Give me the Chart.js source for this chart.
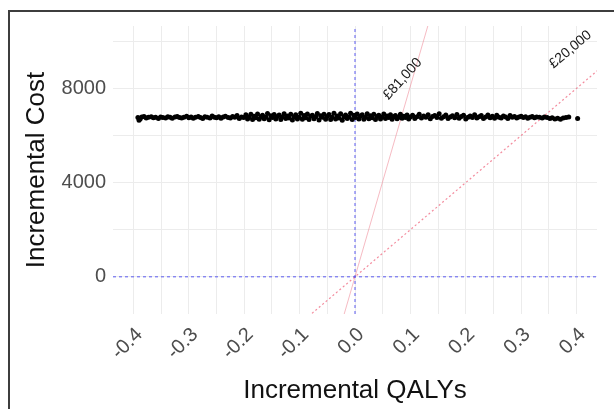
<!DOCTYPE html>
<html lang="en">
<head>
    <meta charset="UTF-8">
    <title>Cost-effectiveness plane</title>
    <script src="https://cdn.jsdelivr.net/npm/chart.js"></script>
    <style>
        body { margin: 0; background: #fff; }
        #wrap { position: relative; width: 614px; height: 409px; }
        #frame {
            position: absolute; left: 8px; top: 10px; width: 606px; height: 399px;
            border-left: 2px solid #3d3d3d; border-top: 2px solid #3d3d3d;
            box-sizing: border-box; pointer-events: none;
        }
    </style>
</head>
<body>
<div id="wrap">
    <canvas id="plano" width="614" height="409"></canvas>
    <div id="frame"></div>
</div>
<script>
    // PSA simulations: incremental QALYs / incremental cost
    const qalyDiff = [
        -0.392,-0.390,-0.388,-0.385,-0.381,-0.377,-0.373,-0.368,-0.364,-0.360,-0.355,-0.351,-0.347,-0.342,-0.338,-0.334,
        -0.330,-0.325,-0.321,-0.317,-0.313,-0.309,-0.304,-0.300,-0.296,-0.292,-0.288,-0.283,-0.279,-0.275,-0.271,-0.267,
        -0.262,-0.258,-0.254,-0.250,-0.246,-0.242,-0.238,-0.234,-0.229,-0.225,-0.221,-0.217,-0.213,-0.209,-0.205,-0.201,
        -0.197,-0.194,-0.191,-0.188,-0.185,-0.182,-0.179,-0.176,-0.173,-0.170,-0.167,-0.164,-0.161,-0.158,-0.155,-0.152,
        -0.149,-0.146,-0.143,-0.140,-0.137,-0.134,-0.131,-0.128,-0.125,-0.122,-0.119,-0.116,-0.113,-0.110,-0.107,-0.104,
        -0.101,-0.098,-0.095,-0.092,-0.089,-0.086,-0.083,-0.080,-0.077,-0.074,-0.071,-0.068,-0.065,-0.062,-0.059,-0.056,
        -0.053,-0.050,-0.047,-0.044,-0.041,-0.038,-0.035,-0.032,-0.029,-0.026,-0.023,-0.020,-0.017,-0.014,-0.011,-0.008,
        -0.005,-0.002,0.001,0.004,0.007,0.010,0.013,0.016,0.019,0.022,0.025,0.028,0.031,0.034,0.037,0.040,
        0.043,0.046,0.049,0.052,0.055,0.058,0.061,0.064,0.067,0.070,0.073,0.076,0.079,0.082,0.085,0.088,
        0.091,0.094,0.097,0.100,
        0.104,0.108,0.112,0.116,0.120,0.124,0.128,0.132,0.136,0.140,0.144,0.148,0.152,0.156,0.160,0.164,
        0.168,0.172,0.176,0.180,0.184,0.188,0.192,0.196,0.200,0.204,0.208,0.212,0.216,0.220,0.224,0.228,
        0.232,0.236,0.240,0.244,0.248,0.252,0.256,0.260,0.264,0.268,0.272,0.276,0.280,0.284,0.288,0.292,
        0.296,0.300,0.304,0.308,0.312,0.316,0.320,0.324,0.328,
        0.333,0.338,0.342,0.347,0.352,0.356,0.361,0.366,0.371,0.376,0.381,0.386,0.402
    ];
    const costDiff = [
        6760,6650,6700,6790,6810,6740,6780,6800,6750,6770,6720,6790,6760,6740,6800,6770,
        6730,6790,6810,6760,6740,6780,6820,6750,6790,6730,6770,6810,6760,6720,6800,6780,
        6740,6830,6770,6750,6800,6730,6790,6820,6760,6740,6810,6780,6850,6720,6790,6760,
        6880,6700,6790,6900,6680,6820,6750,6910,6690,6800,6860,6710,6780,6930,6670,6840,
        6760,6890,6700,6810,6870,6680,6790,6920,6720,6830,6740,6900,6660,6800,6880,6700,
        6770,6940,6690,6850,6750,6910,6680,6820,6860,6710,6800,6930,6660,6840,6770,6900,
        6690,6810,6890,6680,6780,6950,6700,6830,6740,6920,6650,6800,6870,6720,6790,6940,
        6680,6860,6760,6910,6700,6820,6880,6690,6780,6920,6710,6840,6750,6900,6680,6810,
        6860,6700,6790,6910,6720,6830,6760,6880,6690,6800,6850,6710,6780,6900,6730,6820,
        6760,6870,6700,6790,
        6860,6720,6800,6900,6740,6830,6780,6880,6710,6810,6850,6760,6920,6730,6800,6870,
        6720,6790,6840,6750,6890,6730,6810,6860,6700,6780,6830,6760,6880,6740,6800,6850,
        6720,6790,6870,6750,6820,6730,6860,6780,6740,6830,6790,6720,6850,6770,6810,6740,
        6790,6820,6760,6800,6730,6780,6810,6750,6790,
        6770,6740,6790,6760,6720,6750,6700,6730,6690,6740,6760,6790,6720
    ];

    // willingness-to-pay thresholds (end points of each line, and label spot)
    const wtpLabels = ["£81,000", "£20,000"];
    const wtpLineX = [[-0.03, 0.14], [-0.09, 0.45]];
    const wtpLineY = [[-2430, 11340], [-1800, 9000]];
    const wtpLabelX = [0.086, 0.389];
    const wtpLabelY = [8400, 9650];

    // axes
    const xRange = [-0.437, 0.437];
    const yRange = [-1580, 10650];
    const xMajor = [-0.4, -0.3, -0.2, -0.1, 0.0, 0.1, 0.2, 0.3, 0.4];
    const xMinor = [-0.35, -0.25, -0.15, -0.05, 0.05, 0.15, 0.25, 0.35];
    const yMajor = [0, 4000, 8000];
    const yMinor = [2000, 6000, 10000];

    const puntos = qalyDiff.map((q, i) => ({ x: q, y: costDiff[i] }));
    const linea = (xs, ys) => xs.map((v, i) => ({ x: v, y: ys[i] }));

    const etiquetasWTP = {
        id: "etiquetasWTP",
        afterDatasetsDraw(chart) {
            const ctx = chart.ctx;
            const angulos = [-48, -40];
            ctx.save();
            ctx.font = "14px 'Liberation Sans', Arial, sans-serif";
            ctx.fillStyle = "#1a1a1a";
            ctx.textAlign = "center";
            ctx.textBaseline = "middle";
            wtpLabels.forEach((txt, i) => {
                const px = chart.scales.x.getPixelForValue(wtpLabelX[i]);
                const py = chart.scales.y.getPixelForValue(wtpLabelY[i]);
                ctx.save();
                ctx.translate(px, py);
                ctx.rotate(angulos[i] * Math.PI / 180);
                ctx.fillText(txt, 0, 0);
                ctx.restore();
            });
            ctx.restore();
        }
    };

    const fuente = "'Liberation Sans', Arial, sans-serif";

    new Chart(document.getElementById("plano"), {
        type: "scatter",
        data: {
            datasets: [
                { data: puntos, backgroundColor: "#000", borderWidth: 0, pointRadius: 2.5, order: 0 },
                { type: "line", data: linea(wtpLineX[0], wtpLineY[0]), borderColor: "rgba(238,120,135,0.5)",
                  borderWidth: 1, pointRadius: 0, order: 3 },
                { type: "line", data: linea(wtpLineX[1], wtpLineY[1]), borderColor: "rgba(238,90,115,0.7)",
                  borderWidth: 1.2, borderDash: [2, 2.5], pointRadius: 0, order: 3 },
                { type: "line", data: linea([0, 0], yRange), borderColor: "rgba(70,70,240,0.8)",
                  borderWidth: 1.1, borderDash: [3, 3], pointRadius: 0, order: 2 },
                { type: "line", data: linea(xRange, [0, 0]), borderColor: "rgba(70,70,240,0.8)",
                  borderWidth: 1.1, borderDash: [3, 3], pointRadius: 0, order: 2 }
            ]
        },
        options: {
            responsive: false,
            animation: false,
            events: [],
            layout: { padding: { left: 0, top: 26, right: 17, bottom: 0 } },
            plugins: { legend: { display: false }, tooltip: { enabled: false } },
            scales: {
                x: {
                    type: "linear",
                    min: xRange[0], max: xRange[1],
                    afterBuildTicks: s => { s.ticks = xMajor.concat(xMinor).sort((a, b) => a - b).map(v => ({ value: v })); },
                    afterFit: s => { s.height = 95; s.paddingLeft = 0; s.paddingRight = 0; },
                    grid: { color: "#ececec", lineWidth: 1, drawTicks: false },
                    border: { display: false },
                    ticks: {
                        autoSkip: false, minRotation: 45, maxRotation: 45, padding: 9, labelOffset: 6,
                        color: "#4d4d4d", font: { family: fuente, size: 20 },
                        callback: v => xMajor.some(m => Math.abs(m - v) < 1e-9) ? v.toFixed(1) : ""
                    },
                    title: { display: true, text: "Incremental QALYs", color: "#111",
                             font: { family: fuente, size: 26 }, padding: { top: 1, bottom: 3 } }
                },
                y: {
                    type: "linear",
                    min: yRange[0], max: yRange[1],
                    afterBuildTicks: s => { s.ticks = yMajor.concat(yMinor).sort((a, b) => a - b).map(v => ({ value: v })); },
                    afterFit: s => { s.width = 113; },
                    grid: { color: "#ececec", lineWidth: 1, drawTicks: false },
                    border: { display: false },
                    ticks: {
                        autoSkip: false, padding: 7,
                        color: "#4d4d4d", font: { family: fuente, size: 20 },
                        callback: v => yMajor.includes(v) ? String(v) : ""
                    },
                    title: { display: true, text: "Incremental Cost", color: "#111",
                             font: { family: fuente, size: 26 }, padding: { top: 21, bottom: 0 } }
                }
            }
        },
        plugins: [etiquetasWTP]
    });
</script>
</body>
</html>
